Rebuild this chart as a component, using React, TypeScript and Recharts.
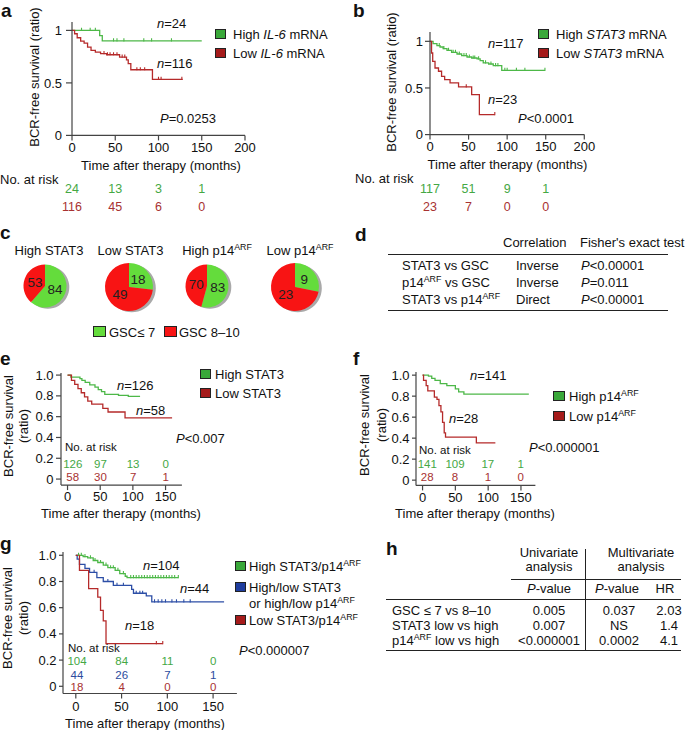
import React from "react";
import { ComposedChart, Line, Scatter, XAxis, YAxis, PieChart, Pie, Cell } from "recharts";

const FONT = '"Liberation Sans", Arial, Helvetica, sans-serif';
const AXIS = "#444";
const INK = "#111";
const GREEN = "#4db848";
const RED = "#b52a2a";
const BLUE = "#2c4ea6";
const GREEN_BOX = "#3aa83a";
const RED_BOX = "#a51b1b";
const BLUE_BOX = "#1f3d9e";
const GREEN_TXT = "#44a844";
const RED_TXT = "#a83232";
const BLUE_TXT = "#2b4c9e";
const PIE_GREEN = "#64dc3c";
const PIE_RED = "#f81414";

// ---- panel a: IL-6 mRNA
const aHighT = [0, 32, 35, 150];
const aHighS = [1, 0.95, 0.9, 0.9];
const aHighCensor = [11, 21, 27, 48, 52, 60, 83, 92, 115];
const aLowT = [0, 3, 6, 10, 14, 18, 22, 27, 33, 40, 55, 63, 65, 68, 93, 128];
const aLowS = [1, 0.968, 0.93, 0.898, 0.879, 0.84, 0.81, 0.794, 0.778, 0.768, 0.745, 0.72, 0.683, 0.625, 0.533, 0.533];
const aLowCensor = [37, 41, 44, 48, 52, 58, 61, 75, 79, 84, 100, 103, 127];
const aRiskHigh = [24, 13, 3, 1];
const aRiskLow = [116, 45, 6, 0];

// ---- panel b: STAT3 mRNA
const bHighT = [0, 4, 9, 13, 17, 22, 28, 35, 41, 48, 54, 61, 65, 69, 76, 82, 93, 149];
const bHighS = [1, 0.975, 0.954, 0.939, 0.921, 0.904, 0.882, 0.864, 0.846, 0.832, 0.821, 0.811, 0.793, 0.768, 0.757, 0.739, 0.689, 0.689];
const bHighCensor = [12, 18, 24, 30, 33, 38, 44, 47, 51, 56, 58, 63, 72, 79, 85, 88, 97, 100, 112, 123, 149];
const bLowT = [0, 2, 3.5, 6.5, 11, 15, 19, 26, 37, 54, 64, 84];
const bLowS = [1, 0.875, 0.786, 0.714, 0.679, 0.625, 0.589, 0.554, 0.511, 0.429, 0.214, 0.214];
const bLowCensor = [47, 84];
const bRiskHigh = [117, 51, 9, 1];
const bRiskLow = [23, 7, 0, 0];

// ---- panel c: pies
const pieCats = ["High STAT3", "Low STAT3", "High p14", "Low p14"];
const pieGscLow = [84, 18, 83, 9];
const pieGscHigh = [53, 49, 70, 23];

// ---- panel e: STAT3 protein
const eHighT = [0, 5, 19, 22, 27, 34, 42, 47, 52, 57, 78, 93, 111];
const eHighS = [1, 0.98, 0.965, 0.95, 0.93, 0.905, 0.885, 0.86, 0.84, 0.815, 0.805, 0.795, 0.795];
const eLowT = [0, 6, 11, 16, 21, 26, 31, 37, 54, 62, 88, 160];
const eLowS = [1, 0.95, 0.91, 0.87, 0.83, 0.79, 0.75, 0.72, 0.68, 0.645, 0.588, 0.588];
const eRiskHigh = [126, 97, 13, 0];
const eRiskLow = [58, 30, 7, 1];

// ---- panel f: p14ARF
const fHighT = [0, 9, 14, 19, 27, 37, 50, 55, 63, 162];
const fHighS = [1, 0.99, 0.97, 0.95, 0.92, 0.9, 0.87, 0.84, 0.82, 0.82];
const fLowT = [0, 1.5, 5.5, 8, 18, 22, 25, 28, 30.5, 33, 35, 82, 111];
const fLowS = [1, 0.95, 0.9, 0.85, 0.79, 0.77, 0.71, 0.65, 0.55, 0.45, 0.41, 0.355, 0.355];
const fRiskHigh = [141, 109, 17, 1];
const fRiskLow = [28, 8, 1, 0];

// ---- panel g: combined
const gHighT = [0, 8, 13, 19, 24, 30, 35, 43, 48, 54, 56, 112];
const gHighS = [1, 0.99, 0.98, 0.96, 0.945, 0.925, 0.905, 0.885, 0.86, 0.84, 0.83, 0.83];
const gHighCensor = [3, 6, 10, 16, 21, 27, 33, 38, 41, 46, 52, 60, 63, 66, 69, 72, 75, 78, 81, 84, 87, 90, 93, 96, 99, 102, 105, 108, 112];
const gMidT = [0, 1.5, 4, 10, 15, 23, 30, 41, 61, 63, 77, 83, 162];
const gMidS = [1, 0.97, 0.93, 0.9, 0.87, 0.83, 0.8, 0.77, 0.74, 0.71, 0.69, 0.645, 0.645];
const gMidCensor = [20, 35, 45, 52, 66, 70, 73, 86, 90, 94, 98, 105, 110, 118, 125];
const gLowT = [0, 4, 14, 24, 27, 30, 33, 95];
const gLowS = [1, 0.885, 0.745, 0.68, 0.58, 0.5, 0.325, 0.325];
const gLowCensor = [88, 95];
const gRiskHigh = [104, 84, 11, 0];
const gRiskMid = [44, 26, 7, 1];
const gRiskLow = [18, 4, 0, 0];

const riskTimes = [0, 50, 100, 150];
const ticks200 = [0, 50, 100, 150, 200];
const ticks150 = [0, 50, 100, 150];
const ticksHalf = [0, 0.5, 1];
const ticksFifth = [0, 0.2, 0.4, 0.6, 0.8, 1.0];

type Curve = { t: number[]; s: number[]; color: string; censor?: number[] };
type Plot = { left: number; top: number; width: number; height: number; xd: [number, number]; yd: [number, number] };

const YW = 40;
const XH = 26;
const M = 12;

function stepAt(c: Curve, time: number) {
  let v = c.s[0];
  for (let i = 0; i < c.t.length; i++) if (c.t[i] <= time) v = c.s[i];
  return v;
}

const fmtHalf = (v: number) => (v === 0 || v === 1 ? String(v) : v.toFixed(1));
const fmtFifth = (v: number) => (v === 0 ? "0" : v.toFixed(1));

function KM(props: {
  plot: Plot;
  curves: Curve[];
  xTicks: number[];
  yTicks: number[];
  yFmt: (v: number) => string;
  yTickSize: number;
  yTickMargin: number;
  xTickMargin?: number;
}) {
  const { plot, curves } = props;
  return (
    <div style={{ position: "absolute", left: plot.left - YW - M, top: plot.top - M }}>
      <ComposedChart
        width={plot.width + YW + 2 * M}
        height={plot.height + XH + 2 * M}
        margin={{ top: M, right: M, bottom: M, left: M }}
      >
        <XAxis
          type="number"
          dataKey="t"
          domain={plot.xd}
          ticks={props.xTicks}
          interval={0}
          allowDataOverflow
          height={XH}
          tickSize={5}
          tickMargin={props.xTickMargin ?? 2}
          axisLine={{ stroke: AXIS, strokeWidth: 1.2 }}
          tickLine={{ stroke: AXIS, strokeWidth: 1.2 }}
          tick={{ fill: INK, fontSize: 13, fontFamily: FONT }}
        />
        <YAxis
          type="number"
          dataKey="s"
          domain={plot.yd}
          ticks={props.yTicks}
          tickFormatter={props.yFmt}
          interval={0}
          allowDataOverflow
          width={YW}
          tickSize={props.yTickSize}
          tickMargin={props.yTickMargin}
          axisLine={{ stroke: AXIS, strokeWidth: 1.2 }}
          tickLine={{ stroke: AXIS, strokeWidth: 1.2 }}
          tick={{ fill: INK, fontSize: 13, fontFamily: FONT }}
        />
        {curves.map((c, i) => (
          <Line
            key={"l" + i}
            data={c.t.map((t, j) => ({ t, s: c.s[j] }))}
            dataKey="s"
            type="stepAfter"
            stroke={c.color}
            strokeWidth={1.3}
            dot={false}
            activeDot={false}
            isAnimationActive={false}
          />
        ))}
        {curves.map((c, i) =>
          c.censor ? (
            <Scatter
              key={"c" + i}
              data={c.censor.map((t) => ({ t, s: stepAt(c, t) }))}
              dataKey="s"
              isAnimationActive={false}
              shape={(p: any) => (
                <line x1={p.cx} x2={p.cx} y1={p.cy - 2.6} y2={p.cy + 0.6} stroke={c.color} strokeWidth={1.1} />
              )}
            />
          ) : null
        )}
      </ComposedChart>
    </div>
  );
}

function Txt(props: {
  x: number;
  y: number;
  anchor?: "start" | "middle" | "end";
  size?: number;
  color?: string;
  bold?: boolean;
  children: React.ReactNode;
}) {
  const size = props.size ?? 13;
  const tx = props.anchor === "middle" ? "-50%" : props.anchor === "end" ? "-100%" : "0";
  return (
    <div
      style={{
        position: "absolute",
        left: props.x,
        top: props.y,
        fontSize: size,
        lineHeight: `${size}px`,
        whiteSpace: "nowrap",
        color: props.color ?? INK,
        fontWeight: props.bold ? "bold" : "normal",
        transform: `translate(${tx}, -50%)`,
      }}
    >
      {props.children}
    </div>
  );
}

const ARF = () => (
  <span style={{ fontSize: "0.68em", verticalAlign: "0.55em", lineHeight: 0 }}>ARF</span>
);

function VTitle({ x, y, lines, gap }: { x: number; y: number; lines: string[]; gap: number }) {
  return (
    <div
      style={{
        position: "absolute",
        left: x,
        top: y,
        fontSize: 13,
        lineHeight: `${gap}px`,
        whiteSpace: "nowrap",
        textAlign: "center",
        transform: "translate(-50%, -50%) rotate(-90deg)",
      }}
    >
      {lines.map((l) => (
        <div key={l}>{l}</div>
      ))}
    </div>
  );
}

function Box({ x, y, c, w = 11, h = 10 }: { x: number; y: number; c: string; w?: number; h?: number }) {
  return (
    <div
      style={{
        position: "absolute",
        left: x,
        top: y,
        width: w,
        height: h,
        background: c,
        border: "1px solid #222",
        boxSizing: "border-box",
      }}
    />
  );
}

function Rule({ x, y, w, h = 1.3 }: { x: number; y: number; w: number; h?: number }) {
  return <div style={{ position: "absolute", left: x, top: y, width: w, height: h, background: "#222" }} />;
}

function Risk(props: { plot: Plot; rows: number[][]; ys: number[]; colors: string[]; size: number; shift?: number }) {
  const { plot } = props;
  const sx = (v: number) => plot.left + ((v - plot.xd[0]) / (plot.xd[1] - plot.xd[0])) * plot.width;
  return (
    <>
      {props.rows.map((row, r) =>
        row.map((n, i) => (
          <Txt
            key={r + "-" + i}
            x={sx(riskTimes[i]) + (i === 0 ? props.shift ?? 0 : 0)}
            y={props.ys[r]}
            anchor="middle"
            size={props.size}
            color={props.colors[r]}
          >
            {n}
          </Txt>
        ))
      )}
    </>
  );
}

const pieLayout = [
  { cx: 45, cy: 286, r: 21.5, tx: 49 },
  { cx: 129, cy: 287, r: 24, tx: 130.5 },
  { cx: 206.5, cy: 286, r: 21.5, tx: 217 },
  { cx: 294.5, cy: 287, r: 24, tx: 300 },
];

const pieLabel = (p: any) => {
  const RAD = Math.PI / 180;
  const r = p.outerRadius * 0.5;
  const x = p.cx + r * Math.cos(-p.midAngle * RAD);
  const y = p.cy + r * Math.sin(-p.midAngle * RAD);
  return (
    <text x={x} y={y} textAnchor="middle" dominantBaseline="central" fontSize={13.5} fill="#222" fontFamily={FONT}>
      {p.value}
    </text>
  );
};

const plotA: Plot = { left: 72, top: 21.6, width: 173, height: 113.4, xd: [0, 200], yd: [0, 1.08] };
const plotB: Plot = { left: 430, top: 32.4, width: 154.3, height: 102.6, xd: [0, 200], yd: [0, 1.1] };
const plotE: Plot = { left: 61.2, top: 372.9, width: 120.9, height: 112.1, xd: [-10, 175], yd: [-0.058, 1.02] };
const plotF: Plot = { left: 415.7, top: 371.9, width: 119.4, height: 113.4, xd: [-10, 172], yd: [-0.05, 1.03] };
const plotG: Plot = { left: 63.2, top: 551.7, width: 173.9, height: 141.5, xd: [-14, 176], yd: [-0.055, 1.025] };

export default function App() {
  return (
    <div
      style={{
        position: "absolute",
        left: 0,
        top: 0,
        width: 685,
        height: 730,
        overflow: "hidden",
        background: "#fff",
        fontFamily: FONT,
        color: INK,
      }}
    >
      {/* ---------- a ---------- */}
      <Txt x={1} y={10} size={19} bold>a</Txt>
      <KM
        plot={plotA}
        curves={[
          { t: aHighT, s: aHighS, color: GREEN, censor: aHighCensor },
          { t: aLowT, s: aLowS, color: RED, censor: aLowCensor },
        ]}
        xTicks={ticks200}
        yTicks={ticksHalf}
        yFmt={fmtHalf}
        yTickSize={6}
        yTickMargin={4}
      />
      <VTitle x={34} y={77} lines={["BCR-free survival (ratio)"]} gap={15} />
      <Txt x={161} y={165} anchor="middle">Time after therapy (months)</Txt>
      <Txt x={157} y={23}><i>n</i>=24</Txt>
      <Txt x={157} y={63}><i>n</i>=116</Txt>
      <Txt x={160} y={118}><i>P</i>=0.0253</Txt>
      <Box x={215} y={29} c={GREEN_BOX} />
      <Txt x={233} y={34}>High <i>IL-6</i> mRNA</Txt>
      <Box x={215} y={48} c={RED_BOX} />
      <Txt x={233} y={53}>Low <i>IL-6</i> mRNA</Txt>
      <Txt x={0} y={179}>No. at risk</Txt>
      <Risk plot={plotA} rows={[aRiskHigh, aRiskLow]} ys={[189.3, 206.7]} colors={[GREEN_TXT, RED_TXT]} size={12.5} />

      {/* ---------- b ---------- */}
      <Txt x={353} y={10} size={19} bold>b</Txt>
      <KM
        plot={plotB}
        curves={[
          { t: bHighT, s: bHighS, color: GREEN, censor: bHighCensor },
          { t: bLowT, s: bLowS, color: RED, censor: bLowCensor },
        ]}
        xTicks={ticks200}
        yTicks={ticksHalf}
        yFmt={fmtHalf}
        yTickSize={5}
        yTickMargin={2}
      />
      <VTitle x={391} y={82} lines={["BCR-free survival (ratio)"]} gap={15} />
      <Txt x={507.5} y={164.3} anchor="middle">Time after therapy (months)</Txt>
      <Txt x={488} y={43}><i>n</i>=117</Txt>
      <Txt x={488} y={99}><i>n</i>=23</Txt>
      <Txt x={518} y={118}><i>P</i>&lt;0.0001</Txt>
      <Box x={538} y={29} c={GREEN_BOX} />
      <Txt x={556} y={34}>High <i>STAT3</i> mRNA</Txt>
      <Box x={538} y={48} c={RED_BOX} />
      <Txt x={556} y={53}>Low <i>STAT3</i> mRNA</Txt>
      <Txt x={355} y={178}>No. at risk</Txt>
      <Risk plot={plotB} rows={[bRiskHigh, bRiskLow]} ys={[189.3, 206.7]} colors={[GREEN_TXT, RED_TXT]} size={12.5} />

      {/* ---------- c ---------- */}
      <Txt x={0} y={232.3} size={19} bold>c</Txt>
      {pieLayout.map((pl, i) => (
        <React.Fragment key={i}>
          <Txt x={pl.tx} y={250} anchor="middle">
            {pieCats[i]}
            {i >= 2 ? <ARF /> : null}
          </Txt>
          <div style={{ position: "absolute", left: pl.cx - 35, top: pl.cy - 35 }}>
            <PieChart width={70} height={70} margin={{ top: 0, right: 0, bottom: 0, left: 0 }}>
              <Pie
                data={[{ v: 1 }]}
                dataKey="v"
                cx={37.8}
                cy={36.3}
                outerRadius={pl.r}
                fill="#a9a9a9"
                stroke="none"
                isAnimationActive={false}
              />
              <Pie
                data={[
                  { name: "GSC≤ 7", value: pieGscLow[i] },
                  { name: "GSC 8–10", value: pieGscHigh[i] },
                ]}
                dataKey="value"
                cx={35}
                cy={35}
                outerRadius={pl.r}
                startAngle={90}
                endAngle={-270}
                stroke="none"
                label={pieLabel}
                labelLine={false}
                isAnimationActive={false}
              >
                <Cell fill={PIE_GREEN} />
                <Cell fill={PIE_RED} />
              </Pie>
            </PieChart>
          </div>
        </React.Fragment>
      ))}
      <Box x={93} y={326} c={PIE_GREEN} w={13} h={11} />
      <Txt x={109} y={332}>GSC≤ 7</Txt>
      <Box x={164} y={326} c={PIE_RED} w={13} h={11} />
      <Txt x={179} y={332}>GSC 8–10</Txt>

      {/* ---------- d ---------- */}
      <Txt x={355} y={234} size={19} bold>d</Txt>
      <Txt x={503} y={242}>Correlation</Txt>
      <Txt x={580} y={242}>Fisher's exact test</Txt>
      <Rule x={388} y={253.5} w={280} />
      <Txt x={402} y={265}>STAT3 vs GSC</Txt>
      <Txt x={402} y={282}>p14<ARF /> vs GSC</Txt>
      <Txt x={402} y={299}>STAT3 vs p14<ARF /></Txt>
      <Txt x={516} y={265}>Inverse</Txt>
      <Txt x={516} y={282}>Inverse</Txt>
      <Txt x={516} y={299}>Direct</Txt>
      <Txt x={581} y={265}><i>P</i>&lt;0.00001</Txt>
      <Txt x={581} y={282}><i>P</i>=0.011</Txt>
      <Txt x={581} y={299}><i>P</i>&lt;0.00001</Txt>
      <Rule x={388} y={309.5} w={280} />

      {/* ---------- e ---------- */}
      <Txt x={0} y={358} size={19} bold>e</Txt>
      <KM
        plot={plotE}
        curves={[
          { t: eHighT, s: eHighS, color: GREEN },
          { t: eLowT, s: eLowS, color: RED },
        ]}
        xTicks={ticks150}
        yTicks={ticksFifth}
        yFmt={fmtFifth}
        yTickSize={5}
        yTickMargin={2.5}
      />
      <VTitle x={15.5} y={426} lines={["BCR-free survival", "(ratio)"]} gap={15} />
      <Txt x={121} y={512.7} anchor="middle">Time after therapy (months)</Txt>
      <Txt x={117} y={385}><i>n</i>=126</Txt>
      <Txt x={136} y={410}><i>n</i>=58</Txt>
      <Txt x={176} y={438}><i>P</i>&lt;0.007</Txt>
      <Box x={200} y={369} c={GREEN_BOX} />
      <Txt x={215} y={374}>High STAT3</Txt>
      <Box x={200} y={388} c={RED_BOX} />
      <Txt x={215} y={393}>Low STAT3</Txt>
      <Txt x={65} y={448} size={11.5}>No. at risk</Txt>
      <Risk plot={plotE} rows={[eRiskHigh, eRiskLow]} ys={[465, 478]} colors={[GREEN_TXT, RED_TXT]} size={11.5} shift={5} />

      {/* ---------- f ---------- */}
      <Txt x={353} y={358} size={19} bold>f</Txt>
      <KM
        plot={plotF}
        curves={[
          { t: fHighT, s: fHighS, color: GREEN },
          { t: fLowT, s: fLowS, color: RED },
        ]}
        xTicks={ticks150}
        yTicks={ticksFifth}
        yFmt={fmtFifth}
        yTickSize={4}
        yTickMargin={2.5}
      />
      <VTitle x={372.5} y={425} lines={["BCR-free survival", "(ratio)"]} gap={17} />
      <Txt x={475} y={512.7} anchor="middle">Time after therapy (months)</Txt>
      <Txt x={470} y={375}><i>n</i>=141</Txt>
      <Txt x={449} y={418}><i>n</i>=28</Txt>
      <Txt x={529} y={447}><i>P</i>&lt;0.000001</Txt>
      <Box x={553} y={391} c={GREEN_BOX} w={12} />
      <Txt x={569} y={396}>High p14<ARF /></Txt>
      <Box x={553} y={411} c={RED_BOX} w={12} />
      <Txt x={569} y={416}>Low p14<ARF /></Txt>
      <Txt x={419} y={451} size={11.5}>No. at risk</Txt>
      <Risk plot={plotF} rows={[fRiskHigh, fRiskLow]} ys={[465, 478]} colors={[GREEN_TXT, RED_TXT]} size={11.5} shift={5} />

      {/* ---------- g ---------- */}
      <Txt x={0} y={543} size={19} bold>g</Txt>
      <KM
        plot={plotG}
        curves={[
          { t: gHighT, s: gHighS, color: GREEN, censor: gHighCensor },
          { t: gMidT, s: gMidS, color: BLUE, censor: gMidCensor },
          { t: gLowT, s: gLowS, color: RED, censor: gLowCensor },
        ]}
        xTicks={ticks150}
        yTicks={ticksFifth}
        yFmt={fmtFifth}
        yTickSize={4}
        yTickMargin={2.5}
        xTickMargin={3.5}
      />
      <VTitle x={15.5} y={618} lines={["BCR-free survival", "(ratio)"]} gap={16} />
      <Txt x={145} y={722.7} anchor="middle">Time after therapy (months)</Txt>
      <Txt x={143} y={565}><i>n</i>=104</Txt>
      <Txt x={180} y={588}><i>n</i>=44</Txt>
      <Txt x={125} y={625}><i>n</i>=18</Txt>
      <Txt x={239} y={650}><i>P</i>&lt;0.000007</Txt>
      <Box x={235} y={561} c={GREEN_BOX} />
      <Txt x={249} y={566}>High STAT3/p14<ARF /></Txt>
      <Box x={235} y={582} c={BLUE_BOX} />
      <Txt x={249} y={587}>High/low STAT3</Txt>
      <Txt x={249} y={603}>or high/low p14<ARF /></Txt>
      <Box x={235} y={615} c={RED_BOX} />
      <Txt x={249} y={620}>Low STAT3/p14<ARF /></Txt>
      <Txt x={68} y={649} size={11.5}>No. at risk</Txt>
      <Risk
        plot={plotG}
        rows={[gRiskHigh, gRiskMid, gRiskLow]}
        ys={[662, 676, 688]}
        colors={[GREEN_TXT, BLUE_TXT, RED_TXT]}
        size={11.5}
        shift={1}
      />

      {/* ---------- h ---------- */}
      <Txt x={386} y={548} size={19} bold>h</Txt>
      <Txt x={549} y={552} anchor="middle">Univariate</Txt>
      <Txt x={549} y={566} anchor="middle">analysis</Txt>
      <Txt x={641} y={552} anchor="middle">Multivariate</Txt>
      <Txt x={641} y={566} anchor="middle">analysis</Txt>
      <div style={{ position: "absolute", left: 584.5, top: 549, width: 1.3, height: 102, background: "#222" }} />
      <Rule x={511} y={578.5} w={170} />
      <Txt x={549} y={588} anchor="middle"><i>P</i>-value</Txt>
      <Txt x={617} y={588} anchor="middle"><i>P</i>-value</Txt>
      <Txt x={665} y={588} anchor="middle">HR</Txt>
      <Rule x={386} y={598.5} w={295} />
      <Txt x={392} y={610}>GSC ≤ 7 vs 8–10</Txt>
      <Txt x={392} y={625}>STAT3 low vs high</Txt>
      <Txt x={392} y={640}>p14<ARF /> low vs high</Txt>
      <Txt x={549} y={610} anchor="middle">0.005</Txt>
      <Txt x={549} y={625} anchor="middle">0.007</Txt>
      <Txt x={549} y={640} anchor="middle">&lt;0.000001</Txt>
      <Txt x={619} y={610} anchor="middle">0.037</Txt>
      <Txt x={619} y={625} anchor="middle">NS</Txt>
      <Txt x={619} y={640} anchor="middle">0.0002</Txt>
      <Txt x={669} y={610} anchor="middle">2.03</Txt>
      <Txt x={669} y={625} anchor="middle">1.4</Txt>
      <Txt x={669} y={640} anchor="middle">4.1</Txt>
      <Rule x={386} y={650} w={295} />
    </div>
  );
}
